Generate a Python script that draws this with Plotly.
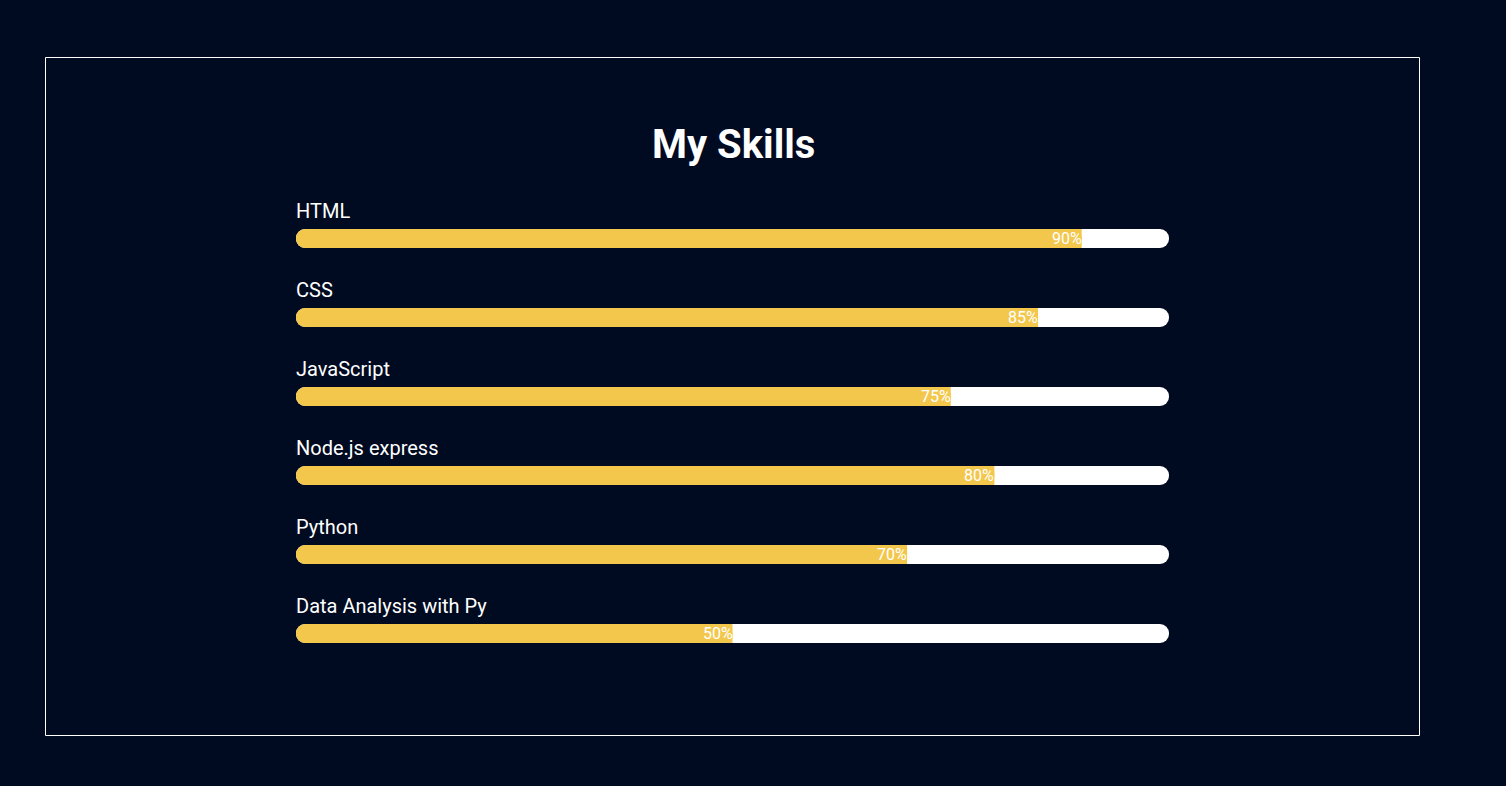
import plotly.graph_objects as go

skills = ["HTML", "CSS", "JavaScript", "Node.js express", "Python", "Data Analysis with Py"]
levels = [90, 85, 75, 80, 70, 50]
max_level = 100

BG = "#000a20"
YELLOW = "#f3c74c"
W, H = 1506, 786
BAR_W = 0.24
zeros = [0] * len(skills)

fig = go.Figure()

# white full track (floating bar -> rounded on both ends)
fig.add_trace(go.Bar(
    y=skills, x=[max_level] * len(skills), base=zeros,
    orientation="h", marker=dict(color="white", cornerradius=10, line=dict(width=0)),
    width=BAR_W, hoverinfo="skip", showlegend=False,
))
# yellow fill, rounded on both ends
fig.add_trace(go.Bar(
    y=skills, x=levels, base=zeros,
    orientation="h", marker=dict(color=YELLOW, cornerradius=10, line=dict(width=0)),
    width=BAR_W, hoverinfo="skip", showlegend=False,
))
# square-off the right end of the yellow fill
fig.add_trace(go.Bar(
    y=skills, x=[v - 5 for v in levels], base=[5] * len(skills),
    orientation="h", marker=dict(color=YELLOW, cornerradius=0, line=dict(width=0)),
    width=BAR_W, hoverinfo="skip", showlegend=False,
))

annotations = []
for s, v in zip(skills, levels):
    annotations.append(dict(
        x=0, y=s, xref="x", yref="y", text=s, showarrow=False,
        xanchor="left", yanchor="middle", yshift=28, xshift=-2,
        font=dict(family="Roboto", size=20, color="white"),
    ))
    annotations.append(dict(
        x=v, y=s, xref="x", yref="y", text=f"{v}%", showarrow=False,
        xanchor="right", yanchor="middle", xshift=2,
        font=dict(family="Roboto", size=16, color="white"),
    ))

annotations.append(dict(
    x=733 / W, y=1 - 144.5 / H, xref="paper", yref="paper", text="<b>My Skills</b>",
    showarrow=False, xanchor="center", yanchor="middle",
    font=dict(family="Roboto", size=40, color="white"),
))

fig.update_layout(
    width=W, height=H, autosize=False,
    margin=dict(l=0, r=0, t=0, b=0),
    paper_bgcolor=BG, plot_bgcolor=BG,
    barmode="overlay",
    xaxis=dict(domain=[296 / W, 1169 / W], range=[0, max_level], visible=False, fixedrange=True),
    yaxis=dict(domain=[1 - 673 / H, 1 - 199 / H], range=[5.5, -0.5], visible=False, fixedrange=True),
    annotations=annotations,
    shapes=[dict(
        type="rect", xref="paper", yref="paper",
        x0=45.5 / W, x1=1419.5 / W, y0=1 - 735.5 / H, y1=1 - 57.5 / H,
        line=dict(color="white", width=1), fillcolor="rgba(0,0,0,0)", layer="below",
    )],
)

fig.write_html("out.html", config={"displayModeBar": False})
